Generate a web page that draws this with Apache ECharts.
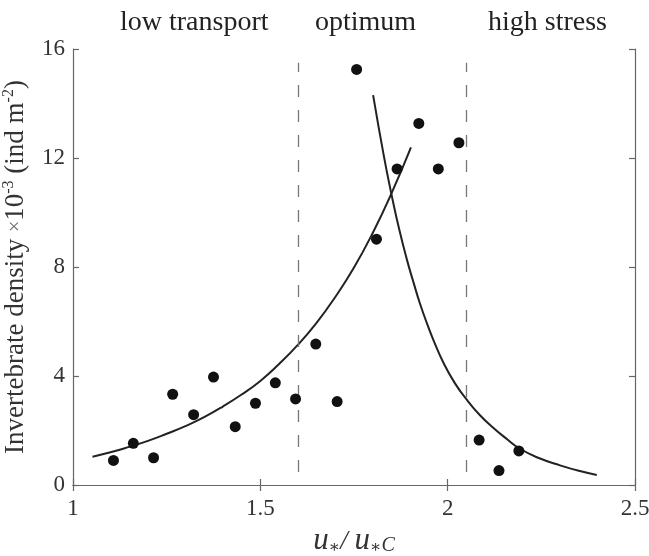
<!DOCTYPE html>
<html>
<head>
<meta charset="utf-8">
<script src="https://cdn.jsdelivr.net/npm/echarts@6/dist/echarts.min.js"></script>
<style>
  html, body { margin: 0; padding: 0; background: #fff; }
  #chart { width: 649px; height: 556px; }
</style>
</head>
<body>
<div id="chart"></div>
<script>
// observed points (u*/u*c, density x10^-3)
var obsX = [1.108, 1.161, 1.215, 1.266, 1.322, 1.375, 1.433, 1.487, 1.540, 1.594, 1.648, 1.705,
            1.757, 1.810, 1.865, 1.923, 1.975, 2.030, 2.084, 2.137, 2.190];
var obsY = [0.90, 1.53, 1.00, 3.33, 2.58, 3.96, 2.14, 3.00, 3.75, 3.16, 5.17, 3.06,
            15.25, 9.02, 11.60, 13.27, 11.60, 12.56, 1.65, 0.53, 1.25];

// rising fit
var riseX = [1.052, 1.10, 1.15, 1.20, 1.25, 1.30, 1.35, 1.40, 1.45, 1.50,
             1.55, 1.60, 1.65, 1.70, 1.75, 1.80, 1.85, 1.902];
var riseY = [1.04, 1.20, 1.40, 1.62, 1.88, 2.16, 2.49, 2.88, 3.32, 3.82,
             4.44, 5.14, 5.95, 6.90, 7.98, 9.25, 10.70, 12.39];

// falling fit
var fallX = [1.801, 1.83, 1.851, 1.87, 1.891, 1.91, 1.926, 1.945, 1.962, 1.99,
             2.02, 2.051, 2.085, 2.12, 2.155, 2.193, 2.245, 2.30, 2.35, 2.398];
var fallY = [14.31, 12.05, 10.60, 9.42, 8.28, 7.38, 6.66, 5.92, 5.32, 4.45,
             3.72, 3.13, 2.58, 2.12, 1.72, 1.33, 0.98, 0.72, 0.52, 0.37];

// regime boundaries
var bounds = [1.6, 2.05];
var regimes = ['low transport', 'optimum', 'high stress'];

function pairs(xs, ys) {
	return xs.map(function (x, i) { return [x, ys[i]]; });
}

var serif = "'Liberation Serif', 'DejaVu Serif', serif";
var myChart = echarts.init(document.getElementById('chart'));

var axisLine = { show: true, lineStyle: { color: '#666', width: 1.2 } };
var tick = { show: true, inside: true, length: 6, lineStyle: { color: '#666', width: 1.2 } };
var topFont = '28px ' + serif;

option = {
	backgroundColor: '#fff',
	animation: false,
	textStyle: { fontFamily: serif },
	grid: { left: 73, right: 14, top: 49, bottom: 71, outerBoundsMode: 'none' },
	graphic: [
		{ type: 'text', left: 120, top: 9, style: { text: regimes[0], font: topFont, fill: '#222' } },
		{ type: 'text', left: 315, top: 9, style: { text: regimes[1], font: topFont, fill: '#222' } },
		{ type: 'text', left: 488, top: 9, style: { text: regimes[2], font: topFont, fill: '#222' } }
	],
	xAxis: [
		{
			type: 'value', min: 1, max: 2.5, interval: 0.5,
			axisLine: axisLine, axisTick: tick, splitLine: { show: false },
			axisLabel: { margin: 12, fontFamily: serif, fontSize: 23, color: '#333' },
			name: '{i|u}{a|∗}{s|/ }{i|u}{a|∗}{c|C}',
			nameLocation: 'middle', nameGap: 34,
			nameTextStyle: {
				rich: {
					i: { fontFamily: serif, fontStyle: 'italic', fontSize: 31, color: '#333', lineHeight: 36, verticalAlign: 'bottom' },
					s: { fontFamily: serif, fontStyle: 'italic', fontSize: 27, color: '#333', lineHeight: 36, verticalAlign: 'bottom' },
					a: { fontFamily: serif, fontSize: 17, color: '#333', lineHeight: 28, verticalAlign: 'bottom' },
					c: { fontFamily: serif, fontStyle: 'italic', fontSize: 20, color: '#333', lineHeight: 28, verticalAlign: 'bottom' }
				}
			}
		},
		{
			type: 'value', min: 1, max: 2.5, interval: 0.5, position: 'top',
			axisLine: axisLine, axisTick: tick, axisLabel: { show: false }, splitLine: { show: false }
		}
	],
	yAxis: [
		{
			type: 'value', min: 0, max: 16, interval: 4,
			axisLine: axisLine, axisTick: tick, splitLine: { show: false },
			axisLabel: { margin: 8, fontFamily: serif, fontSize: 23, color: '#333' },
			name: 'Invertebrate density {x|×}10{p|-3} (ind m{p|-2})',
			nameLocation: 'middle', nameGap: 32, nameRotate: 90,
			nameTextStyle: {
				fontFamily: serif, fontSize: 27, color: '#333', lineHeight: 30,
				rich: {
					x: { fontFamily: serif, fontSize: 20, color: '#666', lineHeight: 30 },
					p: { fontFamily: serif, fontSize: 16, color: '#333', lineHeight: 30, verticalAlign: 'top' }
				}
			}
		},
		{
			type: 'value', min: 0, max: 16, interval: 4, position: 'right',
			axisLine: axisLine, axisTick: tick, axisLabel: { show: false }, splitLine: { show: false }
		}
	],
	series: [
		{
			name: 'rise',
			type: 'line',
			data: pairs(riseX, riseY),
			smooth: 0.5,
			symbol: 'none',
			lineStyle: { color: '#222', width: 2 },
			markLine: {
				silent: true,
				symbol: 'none',
				label: { show: false },
				lineStyle: { color: '#777', type: [12, 13], width: 1.3 },
				data: bounds.map(function (b) {
					return [{ coord: [b, 0.48] }, { coord: [b, 15.5] }];
				})
			}
		},
		{
			name: 'fall',
			type: 'line',
			data: pairs(fallX, fallY),
			smooth: 0.5,
			symbol: 'none',
			lineStyle: { color: '#222', width: 2 }
		},
		{
			name: 'observed',
			type: 'scatter',
			data: pairs(obsX, obsY),
			symbolSize: 11,
			itemStyle: { color: '#111', opacity: 1 },
			z: 5
		}
	]
};

myChart.setOption(option);
window.onresize = myChart.resize;
</script>
</body>
</html>
